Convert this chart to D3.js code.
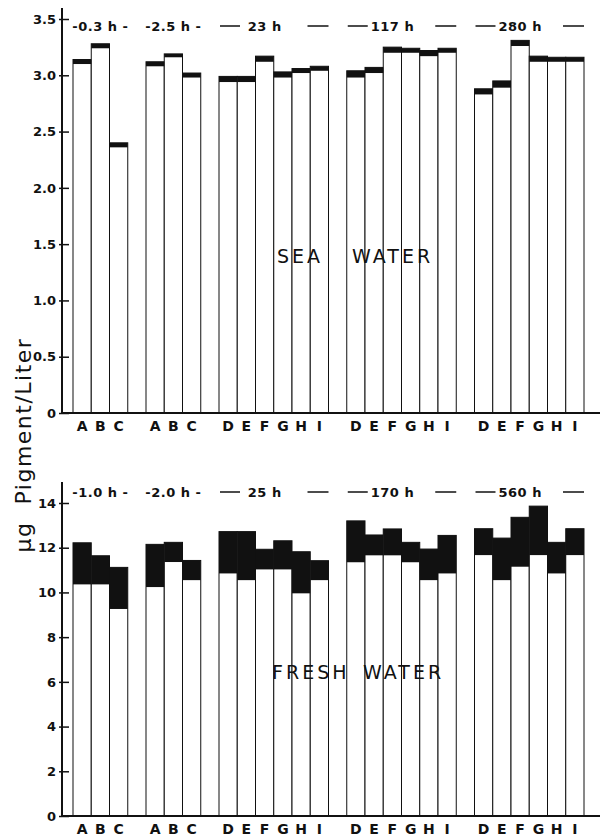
<!DOCTYPE html>
<html>
<head>
<meta charset="utf-8">
<script src="https://cdn.jsdelivr.net/npm/d3@7"></script>
<style>
  html, body { margin: 0; padding: 0; background: #ffffff; }
  svg { display: block; }
  text { font-family: 'DejaVu Sans', sans-serif; fill: #111; }
</style>
</head>
<body>
<div id="chart"></div>
<script>
// Group headers (time after transfer) and bar letters per group
const seaHeaders = ['-0.3 h', '-2.5 h', '23 h', '117 h', '280 h'];
const freshHeaders = ['-1.0 h', '-2.0 h', '25 h', '170 h', '560 h'];
const groupLetters = [
  ['A', 'B', 'C'],
  ['A', 'B', 'C'],
  ['D', 'E', 'F', 'G', 'H', 'I'],
  ['D', 'E', 'F', 'G', 'H', 'I'],
  ['D', 'E', 'F', 'G', 'H', 'I']
];

// Sea water: top of the white part and total height (black cap between)
const seaWhite = [3.10, 3.24, 2.36, 3.08, 3.16, 2.98,
  2.94, 2.94, 3.12, 2.98, 3.02, 3.04,
  2.98, 3.02, 3.20, 3.20, 3.17, 3.20,
  2.83, 2.89, 3.26, 3.12, 3.12, 3.12];
const seaTotal = [3.14, 3.28, 2.40, 3.12, 3.19, 3.02,
  2.99, 2.99, 3.17, 3.03, 3.06, 3.08,
  3.04, 3.07, 3.25, 3.24, 3.22, 3.24,
  2.88, 2.95, 3.31, 3.17, 3.16, 3.16];

// Fresh water
const freshWhite = [10.36, 10.36, 9.26, 10.24, 11.36, 10.55,
  10.85, 10.55, 11.03, 11.03, 9.96, 10.55,
  11.35, 11.66, 11.66, 11.35, 10.55, 10.85,
  11.67, 10.55, 11.15, 11.67, 10.85, 11.67];
const freshTotal = [12.22, 11.64, 11.12, 12.15, 12.24, 11.43,
  12.72, 12.72, 11.93, 12.31, 11.82, 11.42,
  13.20, 12.57, 12.84, 12.24, 11.94, 12.55,
  12.85, 12.43, 13.36, 13.86, 12.24, 12.85];

const seaTicks = [0, 0.5, 1.0, 1.5, 2.0, 2.5, 3.0, 3.5];
const freshTicks = [0, 2, 4, 6, 8, 10, 12, 14];

const width = 604, height = 839;
const axisX = 62;

// Slots: bars plus one empty slot between groups
const slots = [];
const bars = [];
groupLetters.forEach((letters, g) => {
  if (g > 0) slots.push({ key: 'gap' + g, label: '' });
  letters.forEach(l => {
    const key = g + '-' + l;
    slots.push({ key, label: l });
    bars.push({ key, group: g, letter: l });
  });
});

const x = d3.scaleBand()
  .domain(slots.map(s => s.key))
  .range([73, 584])
  .padding(0);

const svg = d3.select('#chart').append('svg')
  .attr('width', width)
  .attr('height', height)
  .attr('viewBox', `0 0 ${width} ${height}`);

function drawPanel(cfg) {
  const y = d3.scaleLinear().domain(cfg.domain).range([cfg.y0, cfg.y1]);
  const g = svg.append('g');

  // Bars: white body with outline, black part on top
  const data = bars.map((b, i) => ({ ...b, white: cfg.white[i], total: cfg.total[i] }));
  g.selectAll('rect.body')
    .data(data)
    .enter().append('rect')
    .attr('class', 'body')
    .attr('x', d => x(d.key))
    .attr('width', x.bandwidth())
    .attr('y', d => y(d.total))
    .attr('height', d => y(0) - y(d.total))
    .attr('fill', '#fff')
    .attr('stroke', '#111')
    .attr('stroke-width', 1);

  g.selectAll('rect.cap')
    .data(data)
    .enter().append('rect')
    .attr('class', 'cap')
    .attr('x', d => x(d.key))
    .attr('width', x.bandwidth())
    .attr('y', d => y(d.total))
    .attr('height', d => y(d.white) - y(d.total))
    .attr('fill', '#111');

  // Y axis
  const yAxis = d3.axisLeft(y)
    .tickValues(cfg.ticks)
    .tickSizeInner(-7)
    .tickSizeOuter(0)
    .tickPadding(6)
    .tickFormat(cfg.fmt);
  const ya = g.append('g')
    .attr('transform', `translate(${axisX},0)`)
    .call(yAxis);
  ya.select('.domain').remove();
  ya.selectAll('.tick line').attr('x1', -3).attr('stroke', '#111').attr('stroke-width', 1.5);
  ya.selectAll('.tick text')
    .attr('font-size', 13)
    .attr('font-weight', 'bold')
    .attr('font-family', 'DejaVu Sans, sans-serif')
    .attr('fill', '#111');

  g.append('line')
    .attr('x1', axisX).attr('x2', axisX)
    .attr('y1', cfg.axisTop).attr('y2', y(0) + 1)
    .attr('stroke', '#111').attr('stroke-width', 2);

  // X axis
  const xAxis = d3.axisBottom(x)
    .tickSize(0)
    .tickPadding(8)
    .tickFormat(k => slots.find(s => s.key === k).label);
  const xa = g.append('g')
    .attr('transform', `translate(0,${y(0)})`)
    .call(xAxis);
  xa.select('.domain').remove();
  xa.selectAll('.tick text')
    .attr('font-size', 14)
    .attr('font-weight', 'bold')
    .attr('font-family', 'DejaVu Sans, sans-serif')
    .attr('fill', '#111');

  g.append('line')
    .attr('x1', axisX).attr('x2', 600)
    .attr('y1', y(0)).attr('y2', y(0))
    .attr('stroke', '#111').attr('stroke-width', 2);

  // Group headers
  groupLetters.forEach((letters, gi) => {
    const first = x(gi + '-' + letters[0]);
    const last = x(gi + '-' + letters[letters.length - 1]) + x.bandwidth();
    const mid = (first + last) / 2;
    if (letters.length <= 3) {
      g.append('text')
        .attr('x', mid)
        .attr('y', cfg.headerY)
        .attr('dy', '0.35em')
        .attr('text-anchor', 'middle')
        .attr('font-size', 13)
        .attr('font-weight', 'bold')
        .attr('letter-spacing', 0.5)
        .style('white-space', 'pre')
        .text(cfg.headers[gi] + ' -');
    } else {
      [[first + 1, first + 21], [last - 21, last]].forEach(([a, b]) => {
        g.append('line')
          .attr('x1', a).attr('x2', b)
          .attr('y1', cfg.headerY).attr('y2', cfg.headerY)
          .attr('stroke', '#111').attr('stroke-width', 1.5);
      });
      g.append('text')
        .attr('x', mid - 9)
        .attr('y', cfg.headerY)
        .attr('dy', '0.35em')
        .attr('text-anchor', 'middle')
        .attr('font-size', 13)
        .attr('font-weight', 'bold')
        .attr('letter-spacing', 0.5)
        .text(cfg.headers[gi]);
    }
  });

  // Panel title, two words placed apart
  cfg.title.forEach(([word, wx]) => {
    g.append('text')
      .attr('x', wx)
      .attr('y', cfg.titleY)
      .attr('dy', '0.35em')
      .attr('font-size', 19)
      .attr('letter-spacing', 3)
      .text(word);
  });
}

drawPanel({
  domain: [0, 3.5], y0: 413, y1: 19, axisTop: 8,
  white: seaWhite, total: seaTotal, ticks: seaTicks,
  fmt: d => d === 0 ? '0' : d3.format('.1f')(d),
  headers: seaHeaders, headerY: 26,
  title: [['SEA', 277], ['WATER', 352]], titleY: 256
});

drawPanel({
  domain: [0, 14], y0: 816, y1: 503, axisTop: 482,
  white: freshWhite, total: freshTotal, ticks: freshTicks,
  fmt: d => String(d),
  headers: freshHeaders, headerY: 492,
  title: [['FRESH', 272], ['WATER', 363]], titleY: 672
});

// Shared y-axis label
svg.append('text')
  .attr('transform', 'translate(23,445) rotate(-90)')
  .attr('dy', '0.35em')
  .attr('text-anchor', 'middle')
  .attr('font-size', 22)
  .attr('letter-spacing', 1.5)
  .style('white-space', 'pre')
  .text('\u00B5g  Pigment/Liter');
</script>
</body>
</html>
